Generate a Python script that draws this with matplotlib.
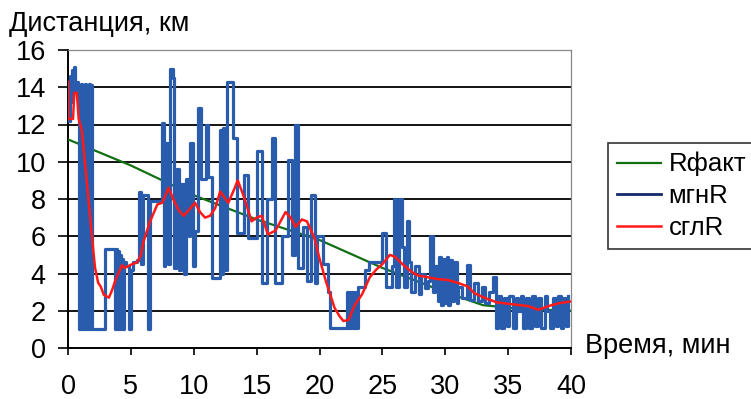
import matplotlib
matplotlib.use("Agg")
import matplotlib.pyplot as plt
from matplotlib.lines import Line2D

plt.rcParams['font.family'] = ['Liberation Sans', 'DejaVu Sans']

# ---- data ----
fact_t = [0, 5, 10, 15, 20, 25, 30, 33, 36, 40]
fact_v = [11.2, 9.8, 8.2, 6.9, 5.8, 4.3, 3.0, 2.3, 2.1, 2.0]

inst_t = [0.00, 0.12, 0.25, 0.35, 0.45, 0.55, 0.65, 0.80, 0.90, 1.00, 1.08, 1.16, 1.24,
          1.32, 1.40, 1.48, 1.56, 1.64, 1.72, 1.80, 1.88, 2.95, 3.70, 3.78, 3.86, 3.94,
          4.02, 4.10, 4.20, 4.28, 4.40, 4.48, 4.60, 4.85, 5.00, 5.15, 5.45, 5.65, 5.80,
          5.95, 6.35, 6.50, 7.45, 7.60, 7.75, 7.95, 8.15, 8.35, 8.45, 8.60, 8.85, 9.00,
          9.25, 9.40, 9.60, 9.70, 9.94, 10.10, 10.34, 10.60, 10.97, 11.10, 11.45, 12.10,
          12.25, 12.35, 12.50, 12.65, 13.10, 13.40, 14.00, 14.30, 15.00, 15.40, 15.80,
          16.20, 16.45, 17.00, 17.50, 17.80, 18.05, 18.30, 18.70, 19.00, 19.30, 19.65,
          19.80, 20.30, 20.70, 20.85, 22.20, 22.30, 22.40, 22.50, 22.60, 22.70, 22.80,
          22.90, 23.10, 23.60, 23.90, 25.00, 25.30, 25.75, 25.90, 26.10, 26.30, 26.55,
          26.70, 26.95, 27.10, 27.30, 27.60, 27.90, 28.10, 28.40, 28.60, 28.80, 29.00,
          29.20, 29.40, 29.50, 29.65, 29.80, 29.95, 30.10, 30.25, 30.40, 30.55, 30.70,
          30.90, 31.00, 31.30, 31.70, 32.00, 32.30, 32.60, 32.90, 33.20, 33.50, 33.80,
          34.00, 34.20, 34.45, 34.65, 34.90, 35.10, 35.35, 35.60, 35.80, 36.00, 36.20,
          36.45, 36.65, 36.90, 37.10, 37.35, 37.60, 37.90, 38.10, 38.30, 38.55, 38.80,
          39.00, 39.20, 39.40, 39.60, 39.80]
inst_v = [12.2, 14.6, 13.2, 14.9, 15.1, 13.8, 14.3, 13.9, 1.0, 14.2, 1.0, 14.1, 1.0,
          14.2, 1.0, 14.0, 1.0, 14.2, 1.0, 14.1, 1.0, 5.3, 1.0, 5.3, 1.0, 5.2,
          1.0, 5.0, 1.0, 4.8, 1.0, 4.6, 4.4, 1.0, 4.2, 4.6, 4.7, 8.4, 4.5,
          8.2, 1.0, 7.9, 12.1, 4.4, 11.0, 4.5, 15.0, 14.5, 4.3, 9.6, 4.2, 8.8,
          4.0, 9.1, 6.0, 11.0, 4.4, 6.3, 12.9, 9.1, 12.0, 9.2, 3.75, 11.7,
          4.0, 11.8, 4.2, 14.3, 11.3, 6.2, 9.3, 5.9, 10.6, 3.5, 8.0,
          11.3, 3.5, 6.0, 10.1, 5.0, 12.0, 4.3, 6.5, 3.6, 8.2, 3.5,
          6.0, 4.5, 3.0, 1.07, 3.0, 1.07, 3.0, 1.07, 3.0, 1.07, 3.0,
          1.07, 3.3, 4.2, 4.6, 6.2, 3.3, 4.4, 8.0, 3.3, 8.0, 5.4,
          3.3, 6.8, 4.6, 3.0, 4.4, 2.9, 4.0, 3.2, 3.6, 6.0, 3.0,
          4.4, 2.5, 4.9, 2.3, 4.8, 2.4, 4.9, 2.3, 4.7, 2.5, 4.6,
          2.4, 3.3, 2.7, 4.45, 2.6, 3.5, 2.5, 3.3, 2.4, 3.0, 3.8,
          1.1, 2.8, 1.1, 2.7, 1.2, 2.8, 1.1, 2.7, 2.0, 2.8, 1.1,
          2.7, 1.1, 2.8, 1.2, 2.7, 1.1, 2.8, 2.0, 1.1, 2.7, 1.2,
          2.8, 1.1, 2.7, 1.2, 2.8]

smooth_t = [0, 0.02, 0.4, 0.5, 0.7, 0.85, 1.1, 1.5, 1.9, 2.15, 2.4, 2.6, 2.85, 3.0, 3.25,
            3.5, 3.75, 4.0, 4.3, 4.5, 4.8, 5.1, 5.5, 5.8, 6.0, 6.5, 7.1, 7.5, 8.0, 8.5,
            8.8, 9.2, 9.6, 10.1, 10.5, 10.9, 11.3, 11.7, 12.1, 12.75, 13.2, 13.5, 14.0,
            14.6, 15.0, 15.4, 15.9, 16.5, 17.3, 17.7, 18.1, 18.6, 19.0, 19.6, 20.0, 20.5,
            21.2, 21.6, 21.9, 22.3, 22.8, 23.4, 24.0, 24.5, 25.0, 25.6, 26.0, 26.6, 27.3,
            27.8, 28.6, 29.4, 30.2, 31.0, 31.8, 32.3, 33.1, 34.1, 35.3, 36.6, 37.4, 38.2,
            39.0, 40.0]
smooth_v = [14.3, 12.3, 12.3, 13.7, 13.7, 12.3, 11.7, 8.9, 6.0, 4.3, 3.5, 3.3, 2.85, 2.8,
            2.7, 3.1, 3.6, 4.0, 4.45, 4.3, 4.4, 4.5, 4.6, 5.0, 5.7, 6.75, 7.7, 7.8, 8.6,
            7.8, 7.4, 7.1, 7.4, 7.8, 7.3, 7.0, 7.1, 7.5, 8.4, 7.8, 8.5, 9.0, 8.1,
            6.8, 7.0, 7.1, 6.1, 6.3, 7.3, 7.0, 6.5, 6.9, 6.8, 5.9, 4.8, 3.6,
            2.15, 1.7, 1.45, 1.5, 2.3, 2.9, 3.8, 4.2, 4.5, 5.0, 4.9, 4.5, 4.1,
            3.9, 3.8, 3.7, 3.65, 3.5, 3.3, 2.95, 2.7, 2.45, 2.35, 2.25, 2.05, 2.25,
            2.4, 2.5]

x_ticks = [0, 5, 10, 15, 20, 25, 30, 35, 40]
y_ticks = [0, 2, 4, 6, 8, 10, 12, 14, 16]
labels = ['Rфакт', 'мгнR', 'сглR']

# ---- figure ----
W, H = 751, 399
fig = plt.figure(figsize=(W / 100, H / 100), dpi=100)
ax = fig.add_axes([68 / W, 1 - 348 / H, (571 - 68) / W, (348 - 50) / H])

ax.plot(fact_t, fact_v, color='#127012', lw=1.6, zorder=3)
ax.plot(inst_t, inst_v, color='#2a5cad', lw=2.3, drawstyle='steps-post', zorder=4)
ax.plot(smooth_t, smooth_v, color='#ff1a1a', lw=1.8, zorder=5)

ax.set_xlim(0, 40)
ax.set_ylim(0, 16)
ax.set_xticks(x_ticks)
ax.set_yticks(y_ticks)
for y in y_ticks[1:-1]:
    ax.axhline(y, color='black', lw=1.3, zorder=1)

ax.spines['left'].set_color('black')
ax.spines['bottom'].set_color('black')
ax.spines['left'].set_linewidth(1.4)
ax.spines['bottom'].set_linewidth(1.4)
ax.spines['top'].set_color('#888888')
ax.spines['right'].set_color('#888888')
ax.spines['top'].set_linewidth(0.9)
ax.spines['right'].set_linewidth(0.9)

ax.tick_params(axis='x', direction='out', length=5, width=1.2, pad=14, labelsize=19.5)
ax.tick_params(axis='y', direction='out', length=7, width=1.2, pad=9, labelsize=19.5)

fig.text(9 / W, 1 - 31 / H, 'Дистанция, км', fontsize=19.5, ha='left', va='baseline')
fig.text(585 / W, 1 - 346 / H, 'Время, мин', fontsize=19.5, ha='left', va='center')

handles = [Line2D([], [], color='#127012', lw=1.6),
           Line2D([], [], color='#14286a', lw=2.0),
           Line2D([], [], color='#ff1a1a', lw=1.8)]
leg = fig.legend(handles, labels, loc='upper left', bbox_to_anchor=(608 / W, 1 - 143 / H),
                 fontsize=18.5, frameon=True, fancybox=False, shadow=False,
                 handlelength=1.7, handletextpad=0.3, labelspacing=0.3,
                 borderpad=0.35, borderaxespad=0)
leg.get_frame().set_edgecolor('black')
leg.get_frame().set_linewidth(1.2)

fig.savefig('out.png', dpi=100)
